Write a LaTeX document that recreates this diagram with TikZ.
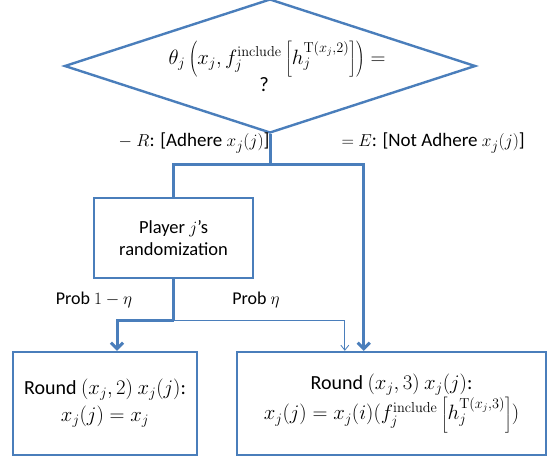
\documentclass[tikz,border=0pt]{standalone}
\usepackage[no-math]{fontspec}
\setmainfont{Carlito}
\usetikzlibrary{arrows.meta,shapes.geometric,positioning,calc}
\definecolor{flowblue}{RGB}{74,126,187}

\begin{document}
\begin{tikzpicture}[x=1pt,y=-1pt,>={Straight Barb[length=6pt,width=12pt]},
 font=\fontsize{20}{27}\selectfont,
 box/.style={draw=flowblue,line width=2.4pt,align=center,inner sep=0pt},
 decide/.style={diamond,draw=flowblue,line width=2.4pt,align=center,shape aspect=3,
   inner sep=0pt,minimum width=411,minimum height=134},
 flow/.style={draw=flowblue,line width=3pt},
 thin flow/.style={draw=flowblue,line width=0.8pt,-{Straight Barb[length=5pt,width=8pt]}},
 branch/.style={font=\fontsize{19}{22}\selectfont},
 prob/.style={font=\fontsize{18}{22}\selectfont}]
\useasboundingbox (0,0) rectangle (548,459);
\node[decide,font=\fontsize{20.5}{27}\selectfont] (test) at (270,66)
 {\hspace*{14pt}$\theta_j\left(x_j,f_j^{\mathrm{include}}\left[h_j^{\mathrm{T}(x_j,2)}\right]\right)=$\\?\hspace*{12pt}};
\node[box,minimum width=159,minimum height=80,font=\fontsize{18.5}{22}\selectfont] (rand) at (173.5,238)
 {Player $j$'s\\randomization};
\node[box,minimum width=184,minimum height=103] (round2) at (105,403.5)
 {Round $(x_j,2)$ $x_j(j)$:\\$x_j(j)=x_j$};
\node[box,minimum width=309,minimum height=103] (round3) at (391.5,403.5)
 {Round $(x_j,3)$ $x_j(j)$:\\$x_j(j)=x_j(i)(f_j^{\mathrm{include}}\left[h_j^{\mathrm{T}(x_j,3)}\right])$};
% branch points
\coordinate (split) at ($(test.south)+(0,30)$);
\coordinate (chance) at ($(rand.south)+(0,41)$);
\draw[flow] (test.south) -- (split) -| (rand.north);
\draw[flow,->] (split) -| ($(round3.north west)+(128,0)$);
\draw[flow] (rand.south) -- (chance);
\draw[flow,->] (chance) -| ($(round2.north)+(12,0)$);
\draw[thin flow] (chance) -| ($(round3.north west)+(109,0)$);
% branch labels
\node[branch,anchor=east] (adhere) at (273,143) {$-$ $R$: [Adhere $x_j(j)$]};
\node[branch,anchor=west] (notadhere) at (338,143) {$=$ $E$: [Not Adhere $x_j(j)$]};
\node[prob] (prob1) at (94,300) {Prob $1-\eta$};
\node[prob] (prob2) at (256,300) {Prob $\eta$};
\end{tikzpicture}
\end{document}
